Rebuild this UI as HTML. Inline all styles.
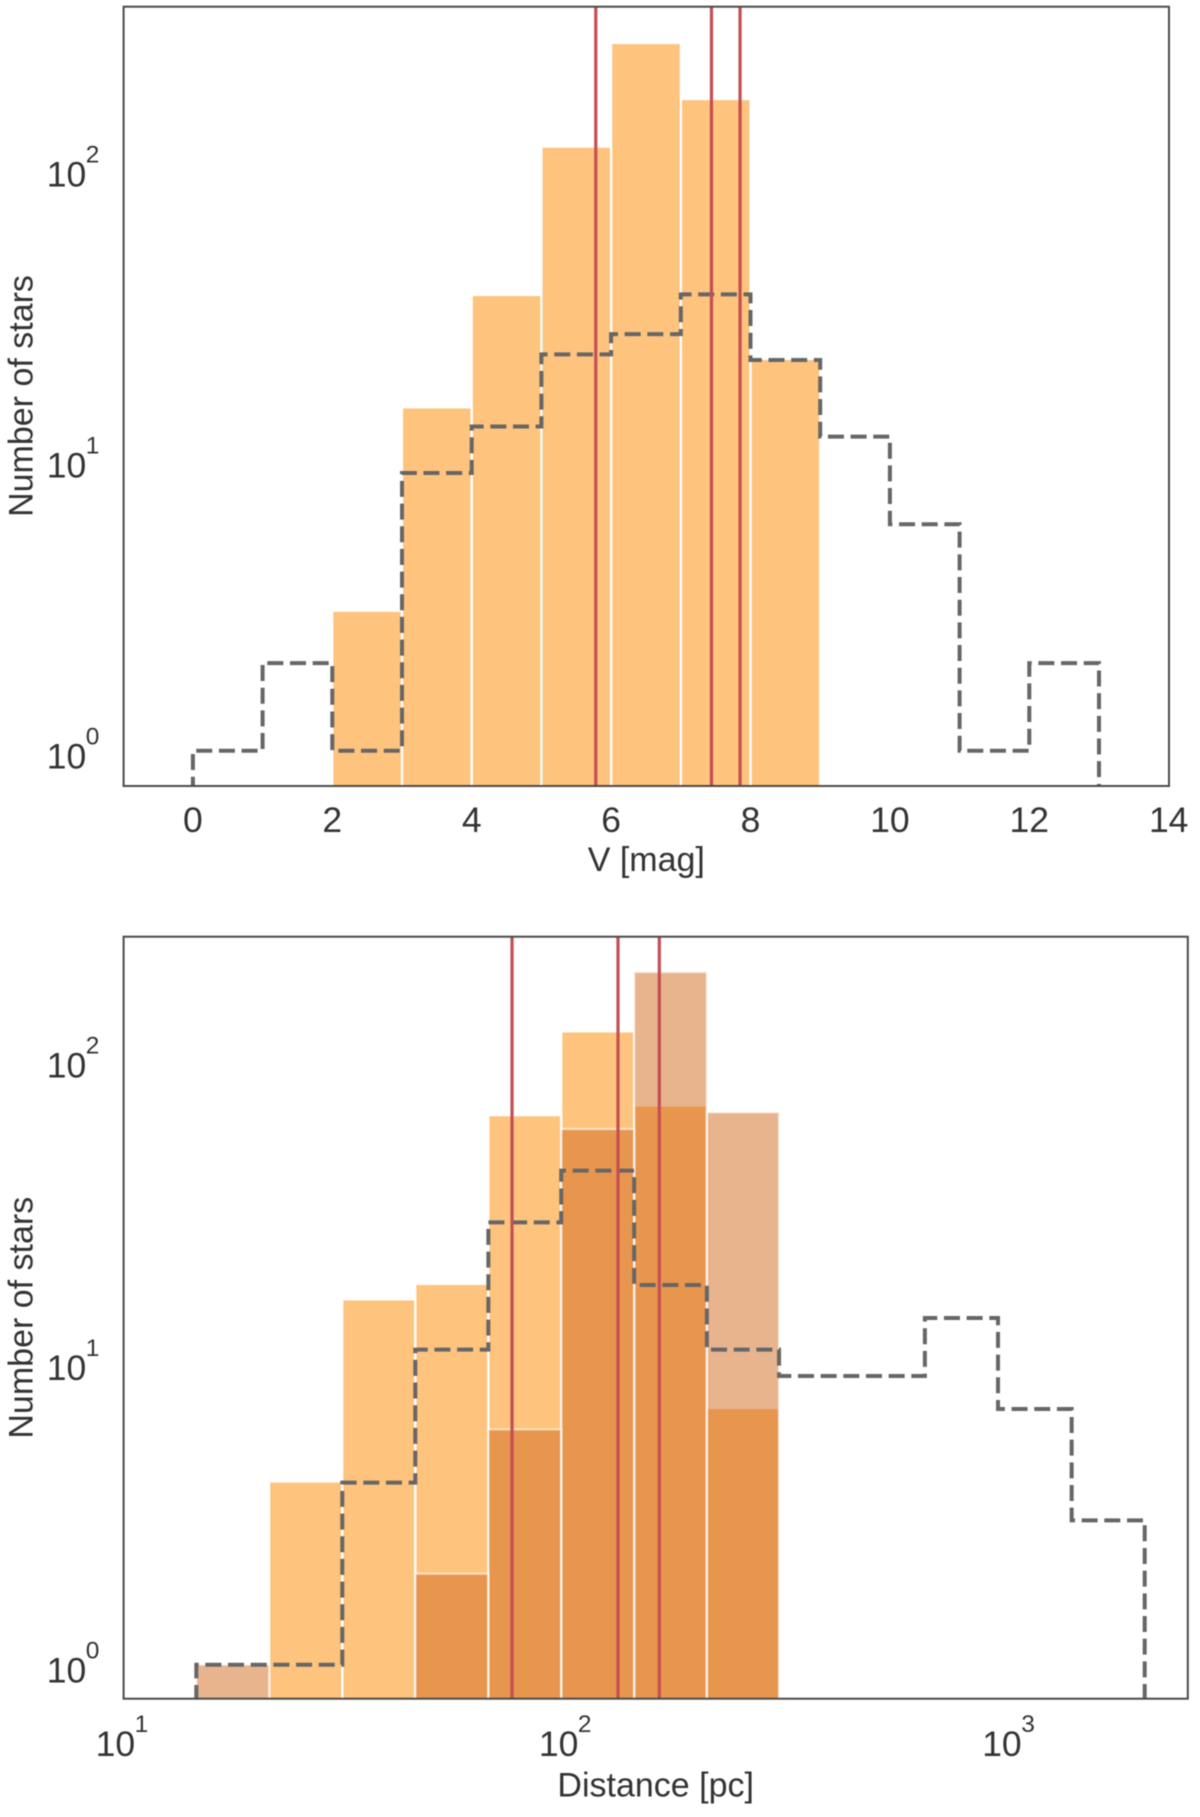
<!DOCTYPE html>
<html lang="en">
<head>
<meta charset="utf-8">
<title>Stellar magnitude and distance histograms</title>
<style>
html,body{margin:0;padding:0;background:#fff;}
svg{display:block;filter:blur(0.5px);}
text{font-family:"Liberation Sans",Arial,sans-serif;fill:#333;}
</style>
</head>
<body>
<svg id="figure" xmlns="http://www.w3.org/2000/svg" width="1200" height="1817" viewBox="0 0 1200 1817">
  <defs>
    <clipPath id="clip-top"><rect x="123.6" y="6.7" width="1045.4" height="779.3"/></clipPath>
    <clipPath id="clip-bottom"><rect x="123.6" y="936.7" width="1064.2" height="762"/></clipPath>
  </defs>
  <g id="panel-top"></g>
  <g id="panel-bottom"></g>
</svg>
<script>
// ---- Top panel data: V magnitude histogram ----
const magEdges = [0, 1, 2, 3, 4, 5, 6, 7, 8, 9, 10, 11, 12, 13];
const magSampleCounts = [0, 0, 3, 15, 36.5, 118, 268, 172, 22, 0, 0, 0, 0];
const magCatalogCounts = [1, 2, 1, 9, 13, 23, 27, 37, 22, 12, 6, 1, 2];
const magMarkers = [5.78, 7.44, 7.85];
const magTickValues = [0, 2, 4, 6, 8, 10, 12, 14];
const magYExponents = [0, 1, 2];

// ---- Bottom panel data: distance histogram ----
const distEdges = [14.59, 21.3, 31.14, 45.5, 66.5, 97.1, 141.8, 206.9, 301, 439.7, 642, 938.7, 1376, 2011];
const distSampleCounts = [0, 4, 16, 18, 65, 123, 70, 7, 0, 0, 0, 0, 0];
const distSubsetCounts = [1, 0, 0, 2, 6, 59, 195, 67, 0, 0, 0, 0, 0];
const distCatalogCounts = [1, 1, 4, 11, 29, 43, 18, 11, 9, 9, 14, 7, 3];
const distMarkers = [75.2, 130.4, 161.6];
const distXExponents = [1, 2, 3];
const distYExponents = [0, 1, 2];

// ---- Axis functions ----
function xMag(v) { return 192.9 + 69.7 * v; }
function yMag(c) { return 750.7 - 291 * Math.log10(c); }
function xDist(d) { return 123.6 + 443.3 * (Math.log10(d) - 1); }
function yDist(c) { return 1664.7 - 302.5 * Math.log10(c); }

const SVGNS = 'http://www.w3.org/2000/svg';
const ORANGE = '#fec37c';
const SUBSET = 'rgba(210,105,30,0.5)';
const RED = '#c44e52';
const DASH = '#666666';
const SPINE = '#4a4a4a';
const TICK_FONT = 35.5;
const TITLE_FONT = 34;

function make(tag, attrs, parent) {
  const e = document.createElementNS(SVGNS, tag);
  for (const k in attrs) e.setAttribute(k, attrs[k]);
  parent.appendChild(e);
  return e;
}

function drawBars(parent, edges, counts, xf, yf, baseY, fill, edgeStroke, withTop, name) {
  counts.forEach(function (c, i) {
    if (c <= 0) return;
    const x0 = xf(edges[i]);
    const x1 = xf(edges[i + 1]);
    const y = yf(c);
    const bar = make('rect', {x: x0, y: y, width: x1 - x0, height: baseY - y, fill: fill}, parent);
    
    
  });
  counts.forEach(function (c, i) {
    if (c <= 0) return;
    const x0 = xf(edges[i]);
    const x1 = xf(edges[i + 1]);
    const y = yf(c);
    const d = withTop
      ? 'M' + x0 + ' ' + baseY + 'L' + x0 + ' ' + y + 'L' + x1 + ' ' + y + 'L' + x1 + ' ' + baseY
      : 'M' + x0 + ' ' + baseY + 'L' + x0 + ' ' + y + 'M' + x1 + ' ' + y + 'L' + x1 + ' ' + baseY;
    const edge = make('path', {d: d, fill: 'none', stroke: edgeStroke, 'stroke-width': 2.2}, parent);
    
    
  });
}

function drawStep(parent, edges, counts, xf, yf, startY, name) {
  let d = 'M' + xf(edges[0]) + ' ' + startY;
  counts.forEach(function (c, i) {
    d += 'L' + xf(edges[i]) + ' ' + yf(c) + 'L' + xf(edges[i + 1]) + ' ' + yf(c);
  });
  d += 'L' + xf(edges[edges.length - 1]) + ' ' + startY;
  const step = make('path', {d: d, fill: 'none', stroke: DASH, 'stroke-width': 4, 'stroke-dasharray': '16 6.67', 'stroke-linejoin': 'miter'}, parent);
  
  
}

function drawMarkers(parent, values, xf, y0, y1, name) {
  values.forEach(function (v) {
    const line = make('line', {x1: xf(v), x2: xf(v), y1: y0, y2: y1, stroke: RED, 'stroke-width': 3.2}, parent);
    
    
  });
}

function drawPower(parent, x, baseline, exp, name) {
  const t = make('text', {x: x, y: baseline, 'font-size': TICK_FONT}, parent);
  t.textContent = '10';
  
  
  const s = make('text', {x: x + 39, y: baseline - 24, 'font-size': 24.5}, parent);
  s.textContent = String(exp);
  
  
}

function drawLabel(parent, str, x, y, rotate, name) {
  const attrs = {x: x, y: y, 'font-size': TITLE_FONT, 'text-anchor': 'middle'};
  if (rotate) attrs.transform = 'rotate(-90 ' + x + ' ' + y + ')';
  const t = make('text', attrs, parent);
  t.textContent = str;
  
  
}

function drawFrame(parent, x, y, w, h) {
  const f = make('rect', {x: x, y: y, width: w, height: h, fill: 'none', stroke: SPINE, 'stroke-width': 2}, parent);
  
  
}

// ---- Top panel ----
const panelTop = document.getElementById('panel-top');
const topPlot = make('g', {'clip-path': 'url(#clip-top)'}, panelTop);


drawBars(topPlot, magEdges, magSampleCounts, xMag, yMag, 786, ORANGE, '#ffffff', false, 'magnitude-sample-bar');
drawStep(topPlot, magEdges, magCatalogCounts, xMag, yMag, 792.7, 'magnitude-catalog-step');
drawMarkers(topPlot, magMarkers, xMag, 6.7, 786, 'magnitude-marker-line');
drawFrame(panelTop, 123.6, 6.7, 1045.4, 779.3);
magTickValues.forEach(function (v) {
  const t = make('text', {x: xMag(v), y: 832, 'font-size': TICK_FONT, 'text-anchor': 'middle'}, panelTop);
  t.textContent = String(v);
  
  
});
magYExponents.forEach(function (e) {
  drawPower(panelTop, 46.8, yMag(Math.pow(10, e)) + 18, e, 'y-tick-label');
});
drawLabel(panelTop, 'V [mag]', 646.3, 871, false, 'x-axis-title');
drawLabel(panelTop, 'Number of stars', 32.5, 396, true, 'y-axis-title');

// ---- Bottom panel ----
const panelBottom = document.getElementById('panel-bottom');
const botPlot = make('g', {'clip-path': 'url(#clip-bottom)'}, panelBottom);


drawBars(botPlot, distEdges, distSampleCounts, xDist, yDist, 1698.7, ORANGE, '#ffffff', false, 'distance-sample-bar');
drawBars(botPlot, distEdges, distSubsetCounts, xDist, yDist, 1698.7, SUBSET, 'rgba(255,255,255,0.6)', true, 'distance-subset-bar');
drawStep(botPlot, distEdges, distCatalogCounts, xDist, yDist, 1701, 'distance-catalog-step');
drawMarkers(botPlot, distMarkers, xDist, 936.7, 1698.7, 'distance-marker-line');
drawFrame(panelBottom, 123.6, 936.7, 1064.2, 762);
distXExponents.forEach(function (e) {
  drawPower(panelBottom, xDist(Math.pow(10, e)) - 28, 1756, e, 'x-tick-label');
});
distYExponents.forEach(function (e) {
  drawPower(panelBottom, 46.8, yDist(Math.pow(10, e)) + 18, e, 'y-tick-label');
});
drawLabel(panelBottom, 'Distance [pc]', 655.7, 1796.7, false, 'x-axis-title');
drawLabel(panelBottom, 'Number of stars', 32.5, 1317.7, true, 'y-axis-title');
</script>
</body>
</html>
